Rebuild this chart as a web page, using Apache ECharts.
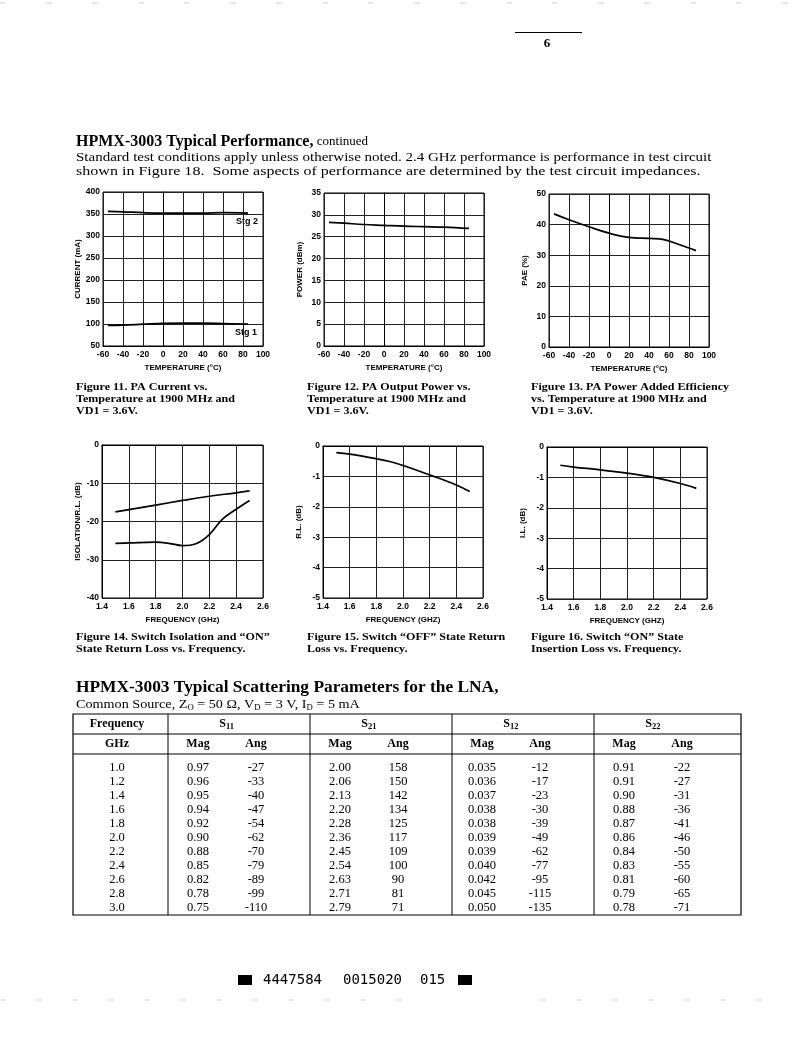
<!DOCTYPE html>
<html><head><meta charset="utf-8">
<script src="https://cdn.jsdelivr.net/npm/echarts@6/dist/echarts.min.js"></script>
<style>html,body{margin:0;padding:0;background:#fff}#c{width:799px;height:1056px}</style>
</head><body><div id="c"></div>
<script>
// ---------- DATA ----------
// Figure 11: PA current vs temperature
const f11Temp = [-55, -40, -20, 0, 20, 40, 60, 85];
const f11Stg2 = [356, 355, 353, 352, 352, 352, 353, 352];
const f11Stg1 = [97, 97.5, 99.5, 101.5, 102, 102, 101, 99.5];
// Figure 12: PA output power vs temperature
const f12Temp = [-55, -40, -20, 0, 20, 40, 60, 85];
const f12Power = [28.3, 28.1, 27.8, 27.6, 27.4, 27.3, 27.2, 26.9];
// Figure 13: PAE vs temperature
const f13Temp = [-55, -40, -20, 0, 20, 40, 55, 70, 87];
const f13PAE = [43.5, 41.6, 39.3, 37.2, 35.8, 35.5, 35.1, 33.5, 31.5];
// Figure 14: switch isolation and ON return loss
const f14IsoFreq = [1.5, 1.6, 1.8, 2.0, 2.2, 2.4, 2.5];
const f14Iso = [-17.5, -16.9, -15.7, -14.5, -13.4, -12.5, -12.0];
const f14RLFreq = [1.5, 1.6, 1.8, 1.9, 2.0, 2.1, 2.2, 2.3, 2.4, 2.5];
const f14RL = [-25.7, -25.6, -25.4, -25.7, -26.3, -25.8, -23.4, -19.3, -16.8, -14.5];
// Figure 15: switch OFF return loss
const f15Freq = [1.5, 1.6, 1.8, 1.9, 2.0, 2.2, 2.4, 2.5];
const f15RL = [-0.22, -0.27, -0.42, -0.51, -0.64, -0.95, -1.28, -1.5];
// Figure 16: switch ON insertion loss
const f16Freq = [1.5, 1.6, 1.8, 2.0, 2.2, 2.4, 2.52];
const f16IL = [-0.60, -0.66, -0.75, -0.86, -1.0, -1.2, -1.36];

// S-parameter table
const tblFreq = ['1.0','1.2','1.4','1.6','1.8','2.0','2.2','2.4','2.6','2.8','3.0'];
const s11Mag = ['0.97','0.96','0.95','0.94','0.92','0.90','0.88','0.85','0.82','0.78','0.75'];
const s11Ang = ['-27','-33','-40','-47','-54','-62','-70','-79','-89','-99','-110'];
const s21Mag = ['2.00','2.06','2.13','2.20','2.28','2.36','2.45','2.54','2.63','2.71','2.79'];
const s21Ang = ['158','150','142','134','125','117','109','100','90','81','71'];
const s12Mag = ['0.035','0.036','0.037','0.038','0.038','0.039','0.039','0.040','0.042','0.045','0.050'];
const s12Ang = ['-12','-17','-23','-30','-39','-49','-62','-77','-95','-115','-135'];
const s22Mag = ['0.91','0.91','0.90','0.88','0.87','0.86','0.84','0.83','0.81','0.79','0.78'];
const s22Ang = ['-22','-27','-31','-36','-41','-46','-50','-55','-60','-65','-71'];

// ---------- STYLE ----------
const SANS = '"Liberation Sans", Arial, sans-serif';
const SERIF = '"Liberation Serif", "Times New Roman", serif';
const MONO = '"DejaVu Sans Mono", monospace';

const grids = [
  {left: 103, top: 192, width: 160, height: 154},
  {left: 324, top: 193, width: 160, height: 153},
  {left: 549, top: 194, width: 160, height: 153},
  {left: 102, top: 445, width: 161, height: 153},
  {left: 323, top: 446, width: 160, height: 152},
  {left: 547, top: 447, width: 160, height: 152}
].map(g => Object.assign({show: true, borderColor: '#000', borderWidth: 1, backgroundColor: 'transparent'}, g));

function xAx(gi, min, max, interval, name, dec) {
  return {
    type: 'value', gridIndex: gi, min, max, interval, name,
    nameLocation: 'middle', nameGap: 18,
    nameTextStyle: {fontFamily: SANS, fontWeight: 'bold', fontSize: 8, color: '#000'},
    axisLine: {show: true, lineStyle: {color: '#000', width: 1}},
    axisTick: {show: false},
    axisLabel: {fontFamily: SANS, fontWeight: 'bold', fontSize: 8.5, color: '#000', margin: 4,
      showMinLabel: true, showMaxLabel: true,
      formatter: v => dec ? Number(v).toFixed(dec) : String(Math.round(v))},
    splitLine: {show: true, lineStyle: {color: '#222', width: 1}}
  };
}
function yAx(gi, min, max, interval, name) {
  return {
    type: 'value', gridIndex: gi, min, max, interval, name,
    nameLocation: 'middle', nameGap: 20,
    nameTextStyle: {fontFamily: SANS, fontWeight: 'bold', fontSize: 8, color: '#000'},
    axisLine: {show: true, lineStyle: {color: '#000', width: 1}},
    axisTick: {show: false},
    axisLabel: {fontFamily: SANS, fontWeight: 'bold', fontSize: 8.5, color: '#000', margin: 3,
      showMinLabel: true, showMaxLabel: true},
    splitLine: {show: true, lineStyle: {color: '#222', width: 1}}
  };
}
const zip = (a, b) => a.map((v, i) => [v, b[i]]);
function line(gi, xs, ys) {
  return {type: 'line', xAxisIndex: gi, yAxisIndex: gi, data: zip(xs, ys), smooth: 0.4,
    symbol: 'none', lineStyle: {color: '#000', width: 1.7}, silent: true, animation: false};
}

// ---------- TEXT (graphic) ----------
const G = [];
function txt(x, y, text, font, align, sx, extra) {
  G.push({type: 'text', silent: true, x, y, scaleX: sx || 1,
    style: Object.assign({x: 0, y: 0, text, font, fill: '#000',
      align: align || 'left', verticalAlign: 'middle'}, extra || {})});
}
function hline(x1, x2, y, w, c, dash) {
  G.push({type: 'line', silent: true, shape: {x1, y1: y, x2, y2: y},
    style: {stroke: c || '#000', lineWidth: w || 1, lineDash: dash || null}});
}
function vline(x, y1, y2, w) {
  G.push({type: 'line', silent: true, shape: {x1: x, y1, x2: x, y2}, style: {stroke: '#000', lineWidth: w || 1}});
}

// faint scan edges
hline(0, 799, 3, 1, '#d0d0d0', [6, 40]);
hline(0, 430, 1000, 1, '#d0d0d0', [6, 30]);
hline(540, 780, 1000, 1, '#d0d0d0', [6, 30]);

// page number
hline(515, 582, 32.5, 1.2);
txt(547, 44, '6', 'bold 13px ' + SERIF, 'center');

// heading
G.push({type: 'text', silent: true, x: 76, y: 142, style: {x: 0, y: 0, verticalAlign: 'middle', fill: '#000',
  text: '{h|HPMX-3003 Typical Performance,} {c|continued}',
  rich: {h: {font: 'bold 16px ' + SERIF, fill: '#000'}, c: {font: '13px ' + SERIF, fill: '#000'}}}});
txt(76, 158, 'Standard test conditions apply unless otherwise noted. 2.4 GHz performance is performance in test circuit', '13px ' + SERIF, 'left', 1.155);
txt(76, 172, 'shown in Figure 18.  Some aspects of performance are determined by the test circuit impedances.', '13px ' + SERIF, 'left', 1.235);

// Stg labels
txt(247, 222, 'Stg 2', 'bold 9px ' + SANS, 'center');
txt(246, 333, 'Stg 1', 'bold 9px ' + SANS, 'center');

// captions
const capFont = 'bold 10.5px ' + SERIF;
const captions = [
  [76, 387, ['Figure 11. PA Current vs.', 'Temperature at 1900 MHz and', 'VD1 = 3.6V.']],
  [307, 387, ['Figure 12. PA Output Power vs.', 'Temperature at 1900 MHz and', 'VD1 = 3.6V.']],
  [531, 387, ['Figure 13. PA Power Added Efficiency', 'vs. Temperature at 1900 MHz and', 'VD1 = 3.6V.']],
  [76, 637, ['Figure 14. Switch Isolation and \u201cON\u201d', 'State Return Loss vs. Frequency.']],
  [307, 637, ['Figure 15. Switch \u201cOFF\u201d State Return', 'Loss vs. Frequency.']],
  [531, 637, ['Figure 16. Switch \u201cON\u201d State', 'Insertion Loss vs. Frequency.']]
];
captions.forEach(([x, y, lines]) => lines.forEach((l, i) => txt(x, y + i * 12, l, capFont, 'left', 1.15)));

// table section heading
txt(76, 688, 'HPMX-3003 Typical Scattering Parameters for the LNA,', 'bold 16px ' + SERIF, 'left', 1.085);
G.push({type: 'text', silent: true, x: 76, y: 705, scaleX: 1.09, style: {x: 0, y: 0, verticalAlign: 'middle', fill: '#000',
  text: '{n|Common Source, Z}{s|O}{n| = 50 \u03a9, V}{s|D}{n| = 3 V, I}{s|D}{n| = 5 mA}',
  rich: {n: {font: '13px ' + SERIF, fill: '#000', lineHeight: 14, verticalAlign: 'middle'},
         s: {font: '8px ' + SERIF, fill: '#000', lineHeight: 8, verticalAlign: 'bottom'}}}});

// table
const tL = 73, tR = 741, tT = 714, tB = 915;
const divs = [168, 310, 452, 594];
const magOff = 30, angOff = 88;
G.push({type: 'rect', silent: true, shape: {x: tL, y: tT, width: tR - tL, height: tB - tT}, style: {fill: 'none', stroke: '#000', lineWidth: 1.2}});
hline(tL, tR, 734, 1);
hline(tL, tR, 754, 1);
divs.forEach(d => vline(d, tT, tB, 1));
const hFont = 'bold 12px ' + SERIF;
const fCenter = 117;
txt(fCenter, 724, 'Frequency', hFont, 'center');
txt(fCenter, 744, 'GHz', hFont, 'center');
const sNames = ['11', '21', '12', '22'];
const cols = [[s11Mag, s11Ang], [s21Mag, s21Ang], [s12Mag, s12Ang], [s22Mag, s22Ang]];
divs.forEach((d, k) => {
  const c = d + (magOff + angOff) / 2;
  txt(c - 1, 724, 'S', 'bold 12px ' + SERIF, 'right');
  txt(c - 1, 727, sNames[k], 'bold 8.5px ' + SERIF, 'left');
  txt(d + magOff, 744, 'Mag', hFont, 'center');
  txt(d + angOff, 744, 'Ang', hFont, 'center');
  const [mag, ang] = cols[k];
  mag.forEach((v, i) => txt(d + magOff, 768 + i * 14, v, '12.5px ' + SERIF, 'center'));
  ang.forEach((v, i) => txt(d + angOff, 768 + i * 14, v, '12.5px ' + SERIF, 'center'));
});
tblFreq.forEach((v, i) => txt(fCenter, 768 + i * 14, v, '12.5px ' + SERIF, 'center'));

// footer code
G.push({type: 'rect', silent: true, shape: {x: 238, y: 975, width: 14, height: 10}, style: {fill: '#000'}});
G.push({type: 'rect', silent: true, shape: {x: 458, y: 975, width: 14, height: 10}, style: {fill: '#000'}});
txt(263, 980, '4447584', '14px ' + MONO, 'left');
txt(343, 980, '0015020', '14px ' + MONO, 'left');
txt(420, 980, '015', '14px ' + MONO, 'left');

// ---------- CHART ----------
const chart = echarts.init(document.getElementById('c'), null, {renderer: 'canvas'});
chart.setOption({
  backgroundColor: '#fff',
  animation: false,
  grid: grids,
  xAxis: [
    xAx(0, -60, 100, 20, 'TEMPERATURE (\u00b0C)'),
    xAx(1, -60, 100, 20, 'TEMPERATURE (\u00b0C)'),
    xAx(2, -60, 100, 20, 'TEMPERATURE (\u00b0C)'),
    xAx(3, 1.4, 2.6, 0.2, 'FREQUENCY (GHz)', 1),
    xAx(4, 1.4, 2.6, 0.2, 'FREQUENCY (GHZ)', 1),
    xAx(5, 1.4, 2.6, 0.2, 'FREQUENCY (GHZ)', 1)
  ],
  yAxis: [
    yAx(0, 50, 400, 50, 'CURRENT (mA)'),
    yAx(1, 0, 35, 5, 'POWER (dBm)'),
    yAx(2, 0, 50, 10, 'PAE (%)'),
    yAx(3, -40, 0, 10, 'ISOLATION/R.L. (dB)'),
    yAx(4, -5, 0, 1, 'R.L. (dB)'),
    yAx(5, -5, 0, 1, 'I.L. (dB)')
  ],
  series: [
    line(0, f11Temp, f11Stg2),
    line(0, f11Temp, f11Stg1),
    line(1, f12Temp, f12Power),
    line(2, f13Temp, f13PAE),
    line(3, f14IsoFreq, f14Iso),
    line(3, f14RLFreq, f14RL),
    line(4, f15Freq, f15RL),
    line(5, f16Freq, f16IL)
  ],
  graphic: G
});
</script></body></html>
